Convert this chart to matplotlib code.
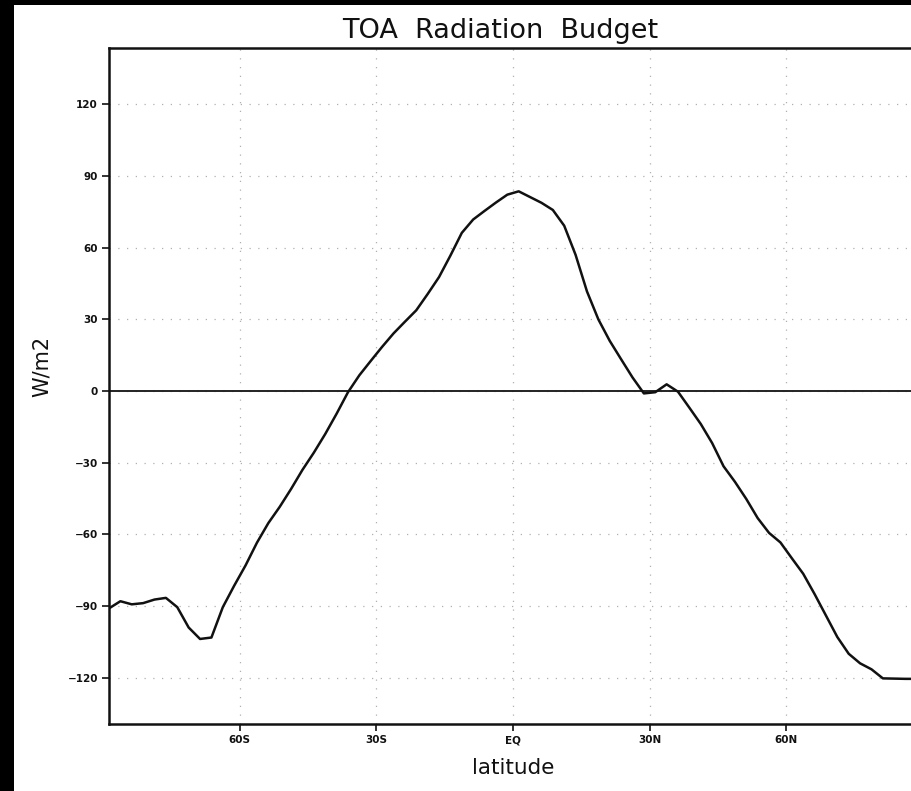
import numpy as np
import matplotlib
matplotlib.use("Agg")
import matplotlib.pyplot as plt
from matplotlib.patches import Rectangle

# ---- data ----
lat_start = -88.75
lat_step = 2.5
toa_values = [
    -91.0, -88.0, -89.3, -88.8, -87.3, -86.6, -90.5, -99.0, -103.8, -103.2,
    -90.5, -81.5, -73.0, -63.5, -55.3, -48.5, -41.0, -33.0, -25.8, -18.0,
    -9.5, -0.5, 6.6, 12.6, 18.5, 24.1, 29.0, 33.8, 40.6, 47.7,
    56.7, 66.2, 71.8, 75.4, 78.9, 82.2, 83.6, 81.2, 78.8, 75.8,
    69.2, 57.0, 41.7, 30.0, 21.0, 13.3, 5.7, -1.0, -0.5, 2.8,
    -0.3, -7.0, -13.8, -21.8, -31.5, -38.0, -45.2, -53.2, -59.4, -63.4,
    -70.0, -76.5, -85.0, -94.0, -103.0, -110.0, -114.0, -116.5, -120.3, -120.4,
    -120.5, -120.5,
]
lats = [lat_start + lat_step * i for i in range(len(toa_values))]

xtick_vals = [-60, -30, 0, 30, 60]
xtick_labels = ["60S", "30S", "EQ", "30N", "60N"]
ytick_vals = [-120, -90, -60, -30, 0, 30, 60, 90, 120]
ytick_labels = ["\u2212120", "\u221290", "\u221260", "\u221230", "0", "30", "60", "90", "120"]

title = "TOA  Radiation  Budget"
xlabel = "latitude"
ylabel = "W/m2"

# ---- figure ----
W, H = 912, 791
fig = plt.figure(figsize=(W / 100, H / 100), dpi=100, facecolor="white")

left_px, right_px, top_px, bottom_px = 109, 917, 48, 724
ax = fig.add_axes([left_px / W, 1 - bottom_px / H,
                   (right_px - left_px) / W, (bottom_px - top_px) / H])

ax.plot(lats, toa_values, color="#111111", lw=1.8, solid_joinstyle="round", zorder=3)
ax.axhline(0, color="#222222", lw=1.4, zorder=2)

ax.set_xlim(-88.75, 88.75)
ax.set_ylim(-139.4, 143.6)

ax.set_xticks(xtick_vals)
ax.set_xticklabels(xtick_labels)
ax.set_yticks(ytick_vals)
ax.set_yticklabels(ytick_labels)

for lab in ax.get_xticklabels() + ax.get_yticklabels():
    lab.set_fontweight("bold")
    lab.set_fontsize(7.5)
    lab.set_color("#111111")

ax.tick_params(axis="both", direction="out", length=5, width=1.2, color="#111111")
ax.tick_params(axis="x", pad=3)
ax.tick_params(axis="y", pad=3)

ax.grid(True, color="#b0b0b0", lw=0.9, linestyle=(0, (1, 6)), zorder=1)

for side in ["left", "top", "bottom"]:
    ax.spines[side].set_linewidth(1.8)
    ax.spines[side].set_color("#111111")
ax.spines["right"].set_visible(False)

fig.text(500 / W, 1 - 31 / H, title, ha="center", va="center",
         fontsize=19.5, color="#111111")
fig.text(513 / W, 1 - 768 / H, xlabel, ha="center", va="center",
         fontsize=15.5, color="#111111")
fig.text(42 / W, 1 - 366 / H, ylabel, ha="center", va="center", rotation=90,
         fontsize=15, color="#111111")

# black border strips
fig.patches.append(Rectangle((0, 0), 14 / W, 1, transform=fig.transFigure,
                             facecolor="black", edgecolor="none", zorder=10))
fig.patches.append(Rectangle((0, 1 - 5 / H), 1, 5 / H, transform=fig.transFigure,
                             facecolor="black", edgecolor="none", zorder=10))

fig.savefig("out.png", dpi=100, facecolor="white")
